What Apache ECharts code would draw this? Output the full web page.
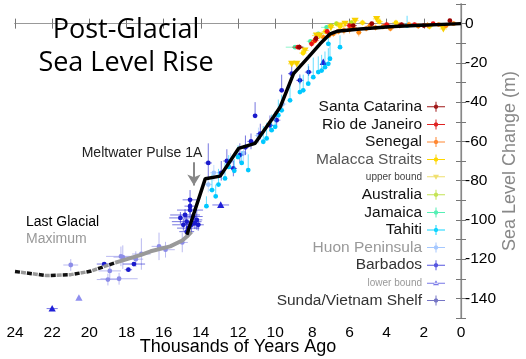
<!DOCTYPE html>
<html><head><meta charset="utf-8">
<script src="https://cdn.jsdelivr.net/npm/echarts@6/dist/echarts.min.js"></script>
<style>html,body{margin:0;padding:0;background:#fff}#c{width:526px;height:359px}</style>
</head><body><div id="c"></div>
<script>
// [age (kyr), level (m), ageErr, levelErrDown, levelErrUp]
const santaCatarina = [[8.7,-12,0.2,1.5,1.5],[7.8,-7.5,0.15,1.5,1.5],[5.8,-1,0.2,1,1],[4.8,0,0.15,1,1],[3.2,-0.5,0.2,1,1],[2.0,-1,0.15,1,1],[0.6,1.5,0.1,1,1]];
const rioDeJaneiro = [[8.78,-12,0.3,1,1],[8.04,-10.3,0.15,1.5,1.5],[7.86,-8.6,0.2,1,1],[7.2,-4,0.15,1,1],[6.0,-1,0.2,1,1],[4.0,-0.5,0.2,1,1],[2.5,-0.5,0.2,1,1],[1.5,0,0.1,1,1]];
const senegal = [[7.4,-7,0.15,1.5,1.5],[7.1,-6,0.15,1.5,1.5],[6.87,-5.2,0.2,1.5,1.5],[6.6,-4,0.15,1.5,1.5],[6.3,-3.5,0.2,2,2],[6.0,-3,0.15,2,2],[5.8,-2,0.2,1.5,1.5],[5.5,-4.5,0.15,2,2],[5.1,-2.5,0.2,1.5,1.5],[4.9,-1,0.15,1.5,1.5],[4.6,-2,0.2,1.5,1.5],[4.2,-1.5,0.15,1.5,1.5],[3.8,-2.5,0.2,1.5,1.5],[3.3,-1,0.15,1.5,1.5],[2.8,-0.5,0.2,1.5,1.5],[2.3,-1.2,0.15,1.5,1.5],[1.8,-0.8,0.2,1.5,1.5],[1.2,-0.5,0.15,1,1],[0.8,-1,0.2,1,1],[0.4,0,0.1,1,1]];
const malacca = [[8.5,-15,0.2,1.5,1.5],[7.9,-9,0.2,1.5,1.5],[7.3,-4,0.2,1.5,1.5],[6.5,-1.5,0.2,1.5,1.5],[5.3,0.5,0.2,1.5,1.5],[4.4,1,0.2,1.5,1.5],[3.5,0.5,0.2,1.5,1.5],[1.7,-1.5,0.2,1.5,1.5]];
const upperBound = [[9.11,-20.5,0.2,0,0],[8.84,-20.5,0.2,0,0],[8.4,-13.7,0.2,0,0],[7.77,-6.1,0.25,0,0],[7.6,-6.1,0.2,0,0],[7.0,-2,0.2,0,0],[6.5,-1,0.2,0,0],[6.24,0,0.2,0,0],[5.7,1.5,0.2,0,0],[4.54,2.4,0.2,0,0],[0.95,-2.7,0.2,0,0]];
const australia = [[7.0,-1,0.15,1,1],[6.7,0,0.15,1,1],[5.9,0.5,0.15,1,1]];
const jamaica = [[8.93,-12,0.5,1,1],[8.1,-9,0.2,1,1],[7.68,-5.2,0.3,1,1],[7.23,-1.9,0.3,1,1]];
const tahiti = [[13.7,-93,0.1,0.5,5],[13.4,-84.8,0.15,0.5,8],[13.2,-88,0.1,0.5,6],[13.05,-82,0.1,0.5,8],[12.7,-78.9,0,0.5,8],[12.5,-73,0,0.5,6],[12.2,-75,0,0.5,6],[12.0,-68,0,0.5,6],[11.8,-71,0,0.5,6],[11.45,-74.6,0,0.5,8],[10.64,-60.2,0,0.5,8],[10.46,-58.5,0,0.5,8],[10.19,-54.3,0,0.5,8],[10.0,-52.6,0,0.5,8],[9.83,-46.7,0,0.5,8],[9.65,-44.2,0,0.5,8],[9.2,-39.1,0,0.5,8],[8.67,-34.9,0,0.5,8],[8.49,-34,0,0.5,8],[8.22,-30.6,0,0.5,10],[7.95,-27.3,0,0.5,10],[7.68,-24.7,0,0.5,8],[7.5,-23.9,0,0.5,8],[7.32,-22.2,0,0.5,8],[7.14,-20.5,0,0.5,8],[7.05,-17.9,0,0.5,8],[7.14,-10.3,0,0.5,6],[6.51,-12,0,0.5,6],[2.9,-1,0,0.5,5]];
const huon = [[13.6,-82,0.2,4,4],[13.3,-76,0.2,4,4],[12.4,-70,0.2,4,4],[11.7,-66,0.2,4,4],[10.9,-57,0.2,4,4],[9.6,-41,0.2,4,4]];
const barbados = [[14.58,-89.8,0.4,5,5],[14.58,-95,0.7,4,4],[14.85,-97.5,0.8,3,3],[14.4,-98.3,0.5,4,4],[15.1,-99,0.6,3,3],[14.22,-100,0.3,5,5],[14.76,-100.9,0.8,4,4],[14.94,-102.5,0.6,3,3],[14.5,-102.5,0.5,4,4],[14.68,-104.2,0.6,3,3],[14.32,-101.7,0.3,3,3],[14.76,-106,0.4,3,3],[14.58,-93,0.3,4,4],[14.14,-102.5,0.3,3,3],[13.6,-71,0.2,8,10],[12.9,-76,0.2,4,6],[12.6,-70,0.2,4,6],[12.25,-73.8,0.2,4,4],[11.9,-67,0.2,4,6],[11.6,-63,0.2,4,6],[11.3,-60,0.2,4,4],[11.08,-47,0,0.5,7],[10.8,-56,0.2,3,5],[10.28,-51.8,0.2,3,5],[9.92,-49.2,0.2,3,5],[9.65,-34,0.1,0.5,8],[9.11,-25.5,0.2,2,4],[8.67,-28.9,0.2,2,3],[8.2,-24.7,0.2,2,3],[19.2,-122.5,0.4,1,1],[17.9,-125.4,0.2,1,1],[17.6,-122.5,0.6,1,1]];
const lowerBound = [[22.0,-145.2,0.3,0,0],[12.93,-92.4,0.45,0,0],[7.41,-19.6,0.1,0,0]];
const lowerBoundShelf = [[20.56,-139.7,0,0,0]];
const sunda = [[21.0,-123,0.4,3,3],[18.3,-118.6,0.8,5,5],[18.9,-126,0.6,4,4],[19.0,-130.4,0.6,3,3],[18.4,-130,1.0,3,3],[18.2,-119,0.5,6,6],[17.2,-117.4,0.5,8,8],[16.25,-113.5,0.4,7,7],[15.9,-115.2,0.5,4,4],[15.0,-111.5,0.3,5,5],[17.5,-120,0.4,4,4]];
// curves [age, level]
const mainCurve = [[14.75,-107.6],[13.76,-79],[12.96,-77.7],[11.97,-63.6],[11.08,-61],[10.09,-47.6],[9.73,-42.5],[9.01,-25.5],[8.21,-17.1],[7.58,-10.3],[7.04,-5.2],[6.68,-3.9],[5.43,-2.7],[3.65,-1.5],[0,0]];
const grayCurve = [[18.6,-121.8],[17.26,-118],[16.7,-116],[15.65,-113.5],[15.0,-110.5],[14.75,-108.5],[14.5,-106]];
const lgmCurve = [[24,-126.3],[22.3,-128.4],[21,-127.9],[19.95,-126.2],[18.9,-122.8],[18.6,-121.8]];
const arrowLine = [[14.37,-70.6],[14.37,-82.5]];
const xTicks = [0,2,4,6,8,10,12,14,16,18,20,22,24];
const yTickLabels = [0,-20,-40,-60,-80,-100,-120,-140];

const FONT = '"Liberation Sans", Arial, sans-serif';

function makeRender(sym){
  return function(params, api){
    const x=api.value(0), y=api.value(1), xe=api.value(2), yd=api.value(3), yu=api.value(4);
    const c=api.coord([x,y]);
    const color=api.visual('color');
    const ch=[];
    if(xe>0){const a=api.coord([x-xe,y]), b=api.coord([x+xe,y]);
      ch.push({type:'line',shape:{x1:a[0],y1:a[1],x2:b[0],y2:b[1]},style:{stroke:color,lineWidth:1,opacity:0.6}});}
    if(yd>0||yu>0){const a=api.coord([x,y-yd]), b=api.coord([x,y+yu]);
      ch.push({type:'line',shape:{x1:a[0],y1:a[1],x2:b[0],y2:b[1]},style:{stroke:color,lineWidth:1,opacity:0.6}});}
    if(sym==='circle') ch.push({type:'circle',shape:{cx:c[0],cy:c[1],r:2.4},style:{fill:color}});
    else if(sym==='up') ch.push({type:'polygon',shape:{points:[[c[0]-3.6,c[1]+3],[c[0]+3.6,c[1]+3],[c[0],c[1]-3.6]]},style:{fill:color}});
    else ch.push({type:'polygon',shape:{points:[[c[0]-3.6,c[1]-3],[c[0]+3.6,c[1]-3],[c[0],c[1]+3.6]]},style:{fill:color}});
    return {type:'group',children:ch};
  };
}
function pts(name, data, color, sym){
  return {type:'custom', name:name, data:data, renderItem:makeRender(sym||'circle'), itemStyle:{color:color}, xAxisIndex:0, yAxisIndex:0, clip:true, silent:true, animation:false};
}
const crossIcon = 'path://M0,4.5L18,4.5L18,5.5L0,5.5Z M8.5,0L9.5,0L9.5,10L8.5,10Z M7,4L8,3L10,3L11,4L11,6L10,7L8,7L7,6Z';
const upIcon = 'path://M0,4.5L18,4.5L18,5.5L0,5.5Z M6,7L12,7L9,2Z';
const downIcon = 'path://M0,4.5L18,4.5L18,5.5L0,5.5Z M6,3L12,3L9,8Z';
function li(name, textColor, iconColor, icon, size){
  return {name:name, icon:icon||crossIcon, itemStyle:{color:iconColor},
    textStyle:{color:textColor, fontSize:size||15.5, lineHeight:17.6, fontFamily:FONT}};
}

const chart = echarts.init(document.getElementById('c'), null, {renderer:'canvas'});
const axisCommon = {type:'value', min:0, max:24, interval:2, inverse:true, splitLine:{show:false}};
chart.setOption({
  animation:false,
  backgroundColor:'#fff',
  title:{text:'Post-Glacial\nSea Level Rise', left:121, top:9, textAlign:'center',
    textStyle:{fontFamily:'"Open Sans", sans-serif', fontSize:27, fontWeight:'normal', color:'#000', lineHeight:33}},
  grid:{left:15, right:65, top:4, bottom:41, outerBoundsMode:'none', containLabel:false},
  xAxis:[
    Object.assign({}, axisCommon, {position:'bottom', name:'Thousands of Years Ago', nameLocation:'middle', nameGap:20, nameMoveOverlap:false,
      nameTextStyle:{fontFamily:FONT, fontSize:18, color:'#000'},
      axisLine:{lineStyle:{color:'#888', width:1.2}},
      axisTick:{inside:true, length:5, lineStyle:{color:'#777'}},
      axisLabel:{fontFamily:FONT, fontSize:15.5, color:'#000', margin:7,
        formatter:function(v){return xTicks.indexOf(v)>=0 ? String(v) : '';}}}),
    Object.assign({}, axisCommon, {position:'top',
      axisLine:{lineStyle:{color:'#999', width:1.2}},
      axisTick:{inside:true, length:5, lineStyle:{color:'#777'}}, axisLabel:{show:false}})
  ],
  yAxis:[
    {type:'value', min:-150, max:10, interval:10, position:'right', splitLine:{show:false},
      name:'Sea Level Change (m)', nameLocation:'middle', nameGap:40, nameRotate:90, nameMoveOverlap:false,
      nameTextStyle:{fontFamily:FONT, fontSize:18, color:'#888'},
      axisLine:{show:true, lineStyle:{color:'#bbb', width:2}},
      axisTick:{inside:true, length:5, lineStyle:{color:'#777'}},
      axisLabel:{fontFamily:FONT, fontSize:15.5, color:'#000', margin:4,
        formatter:function(v){return yTickLabels.indexOf(v)>=0 ? String(v) : '';}}},
    {type:'value', min:-150, max:10, interval:10, position:'left', splitLine:{show:false},
      axisLine:{show:true, lineStyle:{color:'#888', width:1.2}},
      axisTick:{inside:true, length:5, lineStyle:{color:'#777'}}, axisLabel:{show:false}}
  ],
  legend:{orient:'vertical', right:76, top:93, itemWidth:18, itemHeight:10, itemGap:0, itemTextGap:5, align:'right',
    selectedMode:false, textStyle:{fontFamily:FONT, fontSize:15.5, lineHeight:17.6},
    data:[
      li('Santa Catarina','#111','#a01818'),
      li('Rio de Janeiro','#111','#e02222'),
      li('Senegal','#111','#ff8833'),
      li('Malacca Straits','#555','#ffd700'),
      li('upper bound','#444','#f0e070',downIcon,10),
      li('Australia','#111','#c4e455'),
      li('Jamaica','#111','#55f0b5'),
      li('Tahiti','#111','#11d5ff'),
      li('Huon Peninsula','#999','#a5c8ff'),
      li('Barbados','#333','#5555e0'),
      li('lower bound','#999','#7878e8',upIcon,10),
      li('Sunda/Vietnam Shelf','#333','#7575c5')
    ]},
  graphic:[
    {type:'text', x:142, y:153, style:{text:'Meltwater Pulse 1A', fill:'#222', font:'14px "Liberation Sans", Arial', align:'center', verticalAlign:'middle'}},
    {type:'text', x:26, y:222, style:{text:'Last Glacial', fill:'#000', font:'14px "Liberation Sans", Arial', align:'left', verticalAlign:'middle'}},
    {type:'text', x:26, y:239, style:{text:'Maximum', fill:'#999', font:'14px "Liberation Sans", Arial', align:'left', verticalAlign:'middle'}}
  ],
  series:[
    pts('Sunda/Vietnam Shelf', sunda, '#8c8ce8'),
    pts('Huon Peninsula', huon, '#9fc6ff'),
    pts('Barbados', barbados, '#1a1acc'),
    pts('lower bound', lowerBound, '#2020d8', 'up'),
    pts('lower bound', lowerBoundShelf, '#8f8fef', 'up'),
    pts('Tahiti', tahiti, '#00c8ff'),
    pts('Jamaica', jamaica, '#44eeaa'),
    pts('Australia', australia, '#b5e61d'),
    pts('upper bound', upperBound, '#f8d000', 'down'),
    pts('Malacca Straits', malacca, '#ffdd00'),
    pts('Senegal', senegal, '#ff8811'),
    pts('Rio de Janeiro', rioDeJaneiro, '#ee1111'),
    pts('Santa Catarina', santaCatarina, '#990000'),
    {type:'line', name:'lgm-gray', data:lgmCurve, showSymbol:false, silent:true, z:5,
      lineStyle:{color:'#999', width:3.5, type:[5,7], dashOffset:6}},
    {type:'line', name:'lgm-black', data:lgmCurve, showSymbol:false, silent:true, z:5,
      lineStyle:{color:'#111', width:3.5, type:[5,7], dashOffset:0}},
    {type:'line', name:'gray', data:grayCurve, showSymbol:false, silent:true, z:5,
      lineStyle:{color:'#999', width:4}},
    {type:'line', name:'main', data:mainCurve, showSymbol:false, silent:true, z:6,
      lineStyle:{color:'#000', width:3.5}},
    {type:'line', name:'arrow', data:arrowLine, showSymbol:false, silent:true, z:6, lineStyle:{width:0, opacity:0},
      markLine:{silent:true, symbol:['none','arrow'], symbolSize:[10,11], label:{show:false},
        lineStyle:{color:'#888', width:2, type:'solid'},
        data:[[{coord:arrowLine[0]},{coord:arrowLine[1]}]]}}
  ]
});
</script></body></html>
